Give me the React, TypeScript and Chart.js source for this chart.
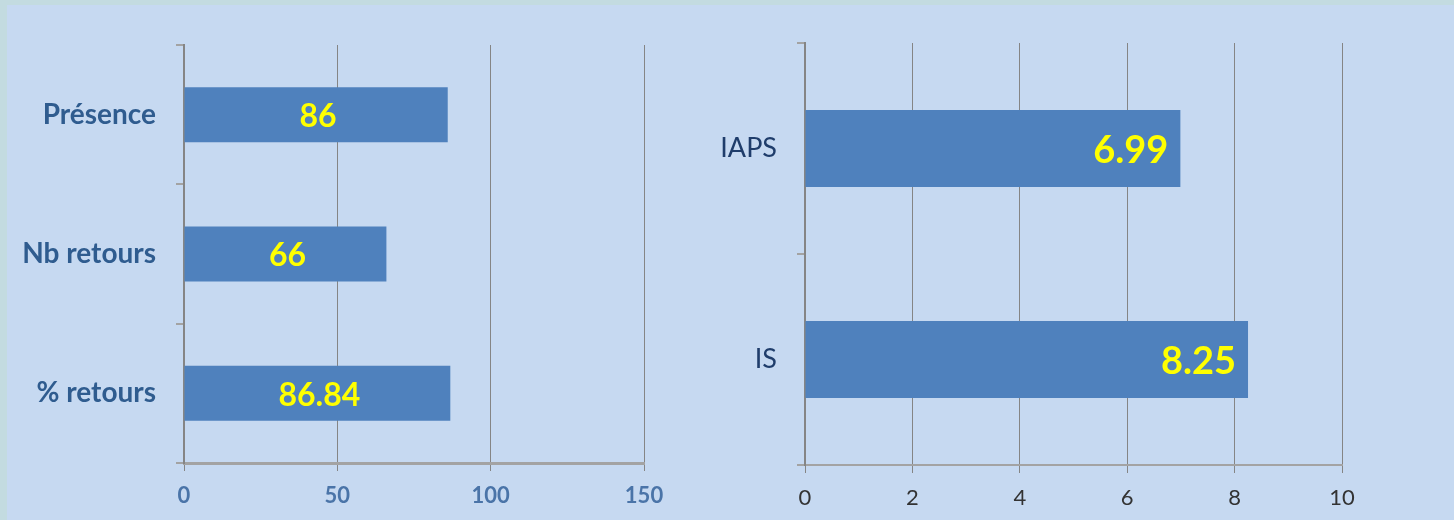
import React, { useEffect, useRef } from "react";
import { Chart, registerables } from "chart.js";

Chart.register(...registerables);

// ---- data ----
const leftCategories = ["Présence", "Nb retours", "% retours"];
const leftValues = [86, 66, 86.84];
const leftValueLabels = ["86", "66", "86.84"];
const leftAxisMax = 150;
const leftAxisStep = 50;

const rightCategories = ["IAPS", "IS"];
const rightValues = [6.99, 8.25];
const rightValueLabels = ["6.99", "8.25"];
const rightAxisMax = 10;
const rightAxisStep = 2;

const BAR_COLOR = "#4F81BD";
const FONT = "Lato, 'Open Sans', sans-serif";

function makeLabelPlugin(labels: string[], font: string, mode: "center" | "end", endOffset: number) {
  return {
    id: "valueLabels",
    afterDatasetsDraw(chart: any) {
      const meta = chart.getDatasetMeta(0);
      const ctx = chart.ctx;
      ctx.save();
      ctx.font = font;
      ctx.fillStyle = "#FFFF00";
      ctx.textBaseline = "middle";
      meta.data.forEach((bar: any, i: number) => {
        const p = bar.getProps(["x", "y", "base"], true);
        if (mode === "center") {
          ctx.textAlign = "center";
          ctx.fillText(labels[i], (p.x + p.base) / 2 + 2, p.y + 2);
        } else {
          ctx.textAlign = "right";
          ctx.fillText(labels[i], p.x - endOffset, p.y + 2);
        }
      });
      ctx.restore();
    },
  };
}

interface PanelProps {
  left: number;
  width: number;
  categories: string[];
  values: number[];
  valueLabels: string[];
  max: number;
  step: number;
  yAxisWidth: number;
  padTop: number;
  padRight: number;
  xAxisHeight: number;
  barPct: number;
  catFont: any;
  catColor: string;
  tickFont: any;
  tickColor: string;
  valueFont: string;
  valueMode: "center" | "end";
  bottomBorderWidth: number;
}

function Panel(props: PanelProps) {
  const ref = useRef<HTMLCanvasElement | null>(null);
  useEffect(() => {
    if (!ref.current) return;
    const chart = new Chart(ref.current, {
      type: "bar",
      data: {
        labels: props.categories,
        datasets: [
          {
            data: props.values,
            backgroundColor: BAR_COLOR,
            borderWidth: 0,
            barPercentage: props.barPct,
            categoryPercentage: 1,
          },
        ],
      },
      options: {
        indexAxis: "y",
        animation: false,
        responsive: false,
        maintainAspectRatio: false,
        layout: { padding: { top: props.padTop, right: props.padRight, left: 0, bottom: 0 } },
        plugins: {
          legend: { display: false },
          tooltip: { enabled: false },
          title: { display: false },
        },
        scales: {
          x: {
            type: "linear",
            min: 0,
            max: props.max,
            ticks: {
              stepSize: props.step,
              font: props.tickFont,
              color: props.tickColor,
              padding: 12,
            },
            grid: {
              color: "#858585",
              lineWidth: 1,
              tickLength: 8,
              drawTicks: true,
            },
            border: { display: true, color: "#A3A3A3", width: props.bottomBorderWidth },
            afterFit: (scale: any) => {
              scale.height = props.xAxisHeight;
            },
          },
          y: {
            type: "category",
            ticks: {
              font: props.catFont,
              color: props.catColor,
              padding: 20,
            },
            grid: {
              drawOnChartArea: false,
              drawTicks: true,
              tickLength: 8,
              color: "#A3A3A3",
              lineWidth: 2,
              offset: true,
            },
            border: { display: true, color: "#858585", width: 2 },
            afterFit: (scale: any) => {
              scale.width = props.yAxisWidth;
            },
          },
        },
      },
      plugins: [makeLabelPlugin(props.valueLabels, props.valueFont, props.valueMode, 12)],
    } as any);
    return () => chart.destroy();
  }, []);
  return (
    <canvas
      ref={ref}
      width={props.width}
      height={520}
      style={{ position: "absolute", left: props.left, top: 0, width: props.width, height: 520 }}
    />
  );
}

export default function App() {
  return (
    <div
      style={{
        position: "fixed",
        left: 0,
        top: 0,
        width: 1454,
        height: 520,
        background: "#C3DBE0",
        overflow: "hidden",
      }}
    >
      <div
        style={{
          position: "absolute",
          left: 7,
          top: 5,
          right: 0,
          bottom: 0,
          background: "#C6D9F1",
        }}
      />
      <Panel
        left={0}
        width={700}
        categories={leftCategories}
        values={leftValues}
        valueLabels={leftValueLabels}
        max={leftAxisMax}
        step={leftAxisStep}
        yAxisWidth={184}
        padTop={45}
        padRight={56}
        xAxisHeight={57}
        barPct={0.395}
        catFont={{ family: FONT, size: 28, weight: "bold" }}
        catColor="#2F5C8F"
        tickFont={{ family: FONT, size: 22, weight: "bold" }}
        tickColor="#4A74A8"
        valueFont={`bold 32px ${FONT}`}
        valueMode="center"
        bottomBorderWidth={3}
      />
      <Panel
        left={700}
        width={754}
        categories={rightCategories}
        values={rightValues}
        valueLabels={rightValueLabels}
        max={rightAxisMax}
        step={rightAxisStep}
        yAxisWidth={105}
        padTop={43}
        padRight={112}
        xAxisHeight={55}
        barPct={0.365}
        catFont={{ family: FONT, size: 27 }}
        catColor="#1F3D6B"
        tickFont={{ family: FONT, size: 22 }}
        tickColor="#333333"
        valueFont={`bold 38px ${FONT}`}
        valueMode="end"
        bottomBorderWidth={2}
      />
    </div>
  );
}
